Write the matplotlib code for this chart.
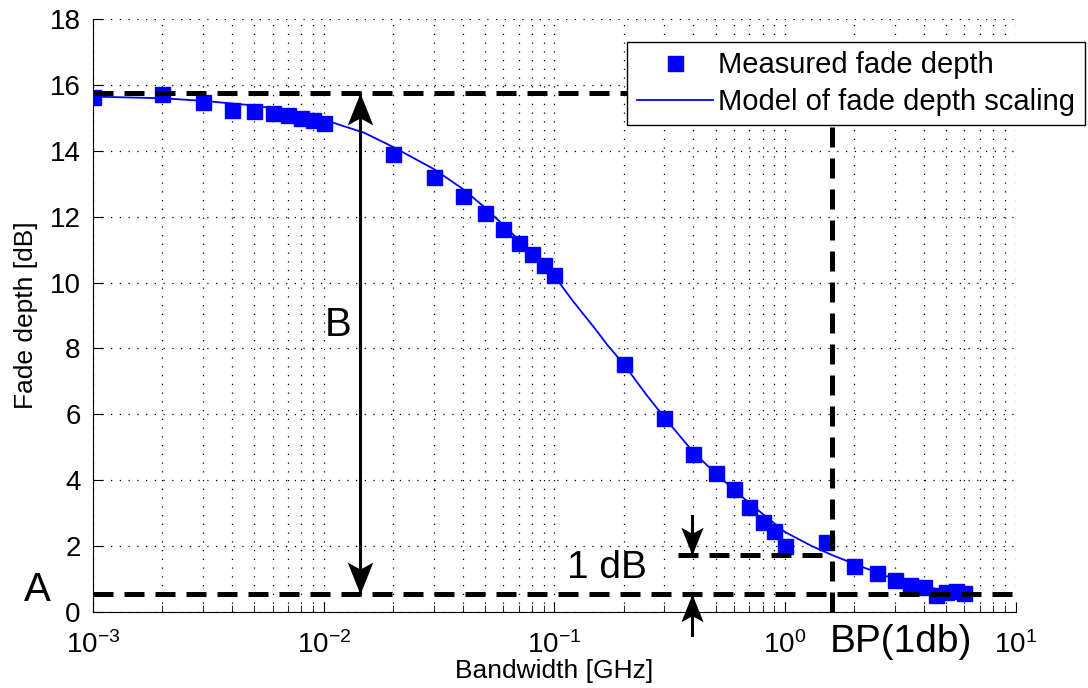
import numpy as np
import matplotlib
matplotlib.use("Agg")
import matplotlib.pyplot as plt
from matplotlib.path import Path

plt.rcParams['font.family'] = ['Liberation Sans', 'DejaVu Sans']
plt.rcParams['mathtext.fontset'] = 'custom'
plt.rcParams['mathtext.rm'] = 'Liberation Sans'

# measured fade depth
bw_meas = [0.001, 0.002, 0.003, 0.004, 0.005, 0.006, 0.007, 0.008, 0.009, 0.01,
           0.02, 0.03, 0.04, 0.05, 0.06, 0.07, 0.08, 0.09, 0.1,
           0.2, 0.3, 0.4, 0.5, 0.6, 0.7, 0.8, 0.9, 1.0,
           1.5, 2.0, 2.5, 3.0, 3.5, 4.0, 4.5, 5.0, 5.5, 6.0]
fd_meas = [15.65, 15.72, 15.5, 15.25, 15.2, 15.15, 15.1, 15.0, 14.95, 14.85,
           13.92, 13.2, 12.63, 12.1, 11.62, 11.2, 10.88, 10.52, 10.22,
           7.52, 5.88, 4.78, 4.2, 3.72, 3.18, 2.72, 2.45, 1.98,
           2.12, 1.39, 1.18, 0.96, 0.82, 0.75, 0.5, 0.6, 0.62, 0.56]

# model curve
bw_model = [0.001, 0.002, 0.003, 0.005, 0.007, 0.01, 0.015, 0.02, 0.03, 0.04,
            0.05, 0.07, 0.1, 0.12, 0.15, 0.17, 0.2, 0.25, 0.3, 0.4, 0.5, 0.7,
            1.0, 1.3, 1.6, 2.0, 3.0, 4.0, 5.0, 6.0]
fd_model = [15.65, 15.6, 15.52, 15.38, 15.22, 14.95, 14.55, 14.12, 13.45, 12.85,
            12.28, 11.3, 10.2, 9.45, 8.6, 8.1, 7.52, 6.6, 5.9, 4.85, 4.2, 3.3,
            2.42, 2.0, 1.72, 1.45, 0.98, 0.76, 0.64, 0.58]

level_A = 0.53
level_top = 15.75
bw_B = 0.0144
bw_BP = 1.6
level_1dB = level_A + 1.2
bw_1dB = 0.395

fig = plt.figure(figsize=(10.88, 6.88), dpi=100)
ax = fig.add_axes([0.0855, 0.111, 0.848, 0.861])

ax.plot(bw_meas, fd_meas, 's', color='blue', markersize=10.8,
        label='Measured fade depth', zorder=3)
ax.plot(bw_model, fd_model, '-', color='blue', lw=1.3,
        label='Model of fade depth scaling', zorder=3)

dash = dict(color='black', lw=3.6, linestyle=(0, (4, 2.2)), zorder=4)
ax.plot([0.001, 10], [level_top, level_top], **dash)
ax.plot([0.001, 10], [level_A, level_A], **dash)
ax.plot([bw_BP, bw_BP], [0, 17], **dash)
ax.plot([0.343, bw_BP], [level_1dB, level_1dB], **dash)

# arrows with notched heads
head = Path([(0, 0), (-0.4, -1), (0, -0.78), (0.4, -1), (0, 0)],
            [Path.MOVETO, Path.LINETO, Path.LINETO, Path.LINETO, Path.CLOSEPOLY])
head_dn = Path(head.vertices * [1, -1], head.codes)

def vline_arrow(x, y0, y1, up_tip=True, down_tip=True, size=46):
    ax.plot([x, x], [y0, y1], color='black', lw=2.2, zorder=5, clip_on=False)
    if up_tip:
        ax.plot([x], [y1], marker=head, markersize=size, color='black',
                markeredgewidth=0, zorder=5, clip_on=False)
    if down_tip:
        ax.plot([x], [y0], marker=head_dn, markersize=size, color='black',
                markeredgewidth=0, zorder=5, clip_on=False)

vline_arrow(bw_B, level_A, level_top)
vline_arrow(bw_1dB, level_1dB, 2.9, up_tip=False, size=40)
vline_arrow(bw_1dB, -0.72, level_A, down_tip=False, size=40)

ax.text(0.0116, 8.7, 'B', fontsize=29, ha='center', va='center', zorder=6)
ax.text(0.169, 1.33, '1 dB', fontsize=28, ha='center', va='center', zorder=6)
fig.text(0.034, 0.142, 'A', fontsize=29, ha='center', va='center')
fig.text(0.828, 0.067, 'BP(1db)', fontsize=28, ha='center', va='center')

ax.set_xscale('log')
ax.set_xlim(0.001, 10)
ax.set_ylim(0, 18)
ax.set_yticks(np.arange(0, 19, 2))
ax.spines['top'].set_visible(False)
ax.spines['right'].set_visible(False)
ax.tick_params(which='both', direction='in', labelsize=20)
ax.tick_params(axis='x', which='both', pad=14)
ax.tick_params(axis='y', which='both', pad=9)
ax.tick_params(which='major', length=7)
ax.tick_params(which='minor', length=5)
ax.grid(True, which='major', color='black', lw=0.9, linestyle=(0, (1, 6)))
ax.grid(True, which='minor', axis='x', color='black', lw=0.9, linestyle=(0, (1, 6)))

ax.set_xlabel('Bandwidth [GHz]', fontsize=19, labelpad=0)
ax.set_ylabel('Fade depth [dB]', fontsize=19, labelpad=8)

leg = ax.legend(loc='upper right', bbox_to_anchor=(0.997, 0.939),
                bbox_transform=fig.transFigure, fontsize=21, frameon=True,
                fancybox=False, framealpha=1, edgecolor='black',
                handlelength=2.6, borderpad=0.32, labelspacing=0.3,
                handletextpad=0.2, borderaxespad=0)
leg.get_frame().set_linewidth(1.0)
leg.set_zorder(10)

fig.savefig('out.png', dpi=100)
